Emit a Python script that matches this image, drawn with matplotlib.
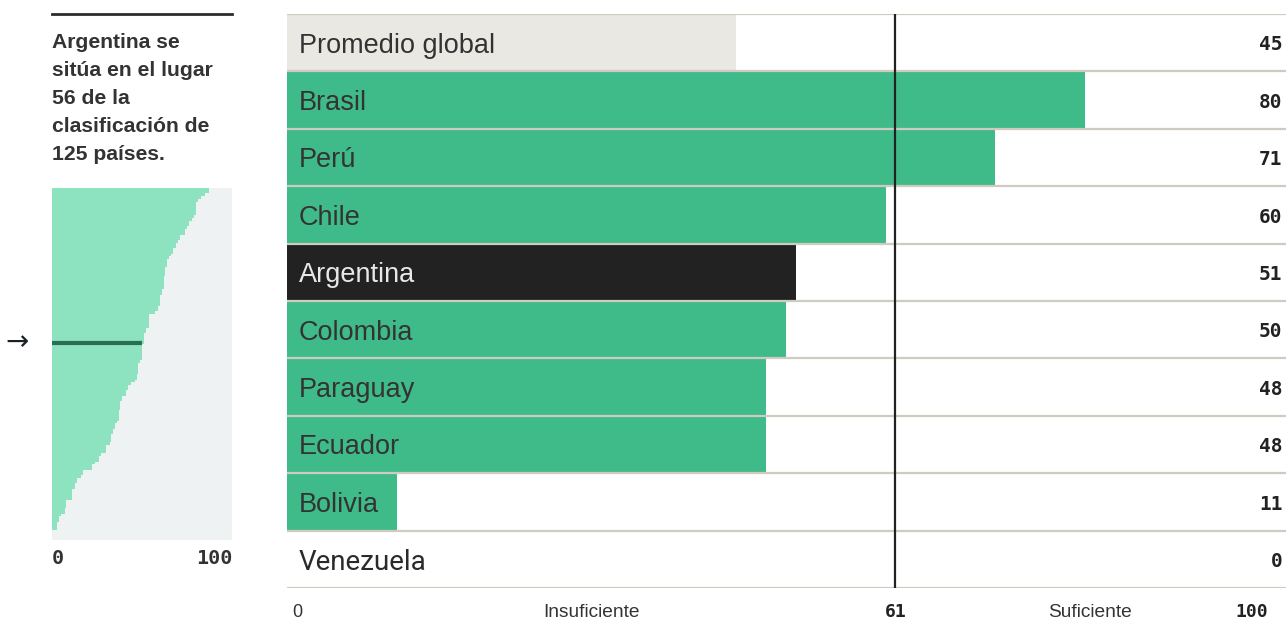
import numpy as np
import matplotlib
matplotlib.use("Agg")
import matplotlib.pyplot as plt

# main chart: Latin America vs global average
countries = ["Promedio global", "Brasil", "Perú", "Chile", "Argentina",
             "Colombia", "Paraguay", "Ecuador", "Bolivia", "Venezuela"]
scores = [45, 80, 71, 60, 51, 50, 48, 48, 11, 0]
THRESHOLD = 61

# mini chart: the 125 countries in ranking order
ranking_scores = (
    [87, 87, 85, 83, 81, 80, 80, 80, 80, 80, 79, 78, 76, 76, 75, 74, 74,
     71, 71, 70, 69, 69, 67, 67, 66, 65, 64, 64, 64, 63, 63, 63,
     62, 62, 62, 62, 62, 61, 61, 60, 60, 60, 60, 59, 59, 57, 54, 54,
     54, 54, 54, 52, 52, 51, 51, 51, 51, 50, 50, 50, 50, 50, 50, 49,
     48, 48, 48, 48, 47, 47, 46, 44, 42, 42, 41, 41, 39, 39, 38, 38, 38,
     37, 37, 37, 37, 36, 35, 35, 34, 34, 33, 33, 33, 32, 30, 30, 30,
     27, 26, 26, 24, 22, 22, 17, 17, 16, 14, 14, 13, 13, 11, 11, 11, 11,
     8, 8, 8, 7, 7, 5, 4, 4, 3, 3, 3]
)
ARG_RANK = 56
ARG_SCORE = 51
N_COUNTRIES = 125

GREEN = "#3ebb89"
LIGHT_GREEN = "#8de2c0"
GREY_BAR = "#e9e8e3"
DARK = "#222222"
SEP = "#cfcbc0"
TEXT = "#333333"

W, H = 1286, 620
fig = plt.figure(figsize=(W / 100, H / 100), dpi=100)


def px_axes(x0, y0, x1, y1):
    """Axes from pixel box (top-left origin)."""
    return fig.add_axes([x0 / W, 1 - y1 / H, (x1 - x0) / W, (y1 - y0) / H])


# ---------------------------------------------------------------------------
# Main bar chart
# ---------------------------------------------------------------------------
ax = px_axes(287, 14, 1286, 588)
xmax = 100 * (1286 - 287) / 997.5
ax.set_xlim(0, xmax)
ax.set_ylim(len(countries), 0)
ax.axis("off")

for i, (name, val) in enumerate(zip(countries, scores)):
    if name == "Promedio global":
        col, tcol = GREY_BAR, TEXT
    elif name == "Argentina":
        col, tcol = DARK, "#e8e8e8"
    else:
        col, tcol = GREEN, TEXT
    ax.barh(i + 0.5, val, height=0.97, left=0, color=col, zorder=1)
    if name == "Venezuela":
        ax.text(1.2, i + 0.55, name, ha="left", va="center", fontsize=20,
                family="Roboto", weight="normal", color="#2a2a2a", zorder=3)
    else:
        ax.text(1.2, i + 0.55, name, ha="left", va="center", fontsize=19.5,
                family="Liberation Sans", color=tcol, zorder=3)
    ax.text(99.8, i + 0.54, f"{val}", ha="right", va="center", fontsize=14,
            family="DejaVu Sans Mono", weight="bold", color=DARK, zorder=3)

for k in range(len(countries) + 1):
    ax.axhline(k, color=SEP, lw=1.6, zorder=2)
ax.axvline(THRESHOLD, color=DARK, lw=1.6, zorder=4)

# bottom scale labels
ax.text(0.5, 10.43, "0", ha="left", va="center", fontsize=13,
        family="Liberation Sans", color=TEXT)
ax.text(30.5, 10.43, "Insuficiente", ha="center", va="center", fontsize=13.8,
        family="Liberation Sans", color=TEXT)
ax.text(THRESHOLD, 10.41, f"{THRESHOLD}", ha="center", va="center",
        fontsize=13, family="DejaVu Sans Mono", weight="bold", color=DARK)
ax.text(80.5, 10.43, "Suficiente", ha="center", va="center", fontsize=13.8,
        family="Liberation Sans", color=TEXT)
ax.text(98.3, 10.41, "100", ha="right", va="center", fontsize=13,
        family="DejaVu Sans Mono", weight="bold", color=DARK)

# ---------------------------------------------------------------------------
# Left panel: caption + ranking mini chart
# ---------------------------------------------------------------------------
fig.add_artist(plt.Line2D([52 / W, 232 / W], [1 - 14 / H, 1 - 14 / H],
                          color="#2b2b2b", lw=2))
caption = ["Argentina se", "sitúa en el lugar", "56 de la",
           "clasificación de", "125 países."]
for j, line in enumerate(caption):
    fig.text(52 / W, 1 - (42 + 28 * j) / H, line, ha="left", va="center",
             fontsize=15.2, weight="bold", family="Liberation Sans",
             color=TEXT)

mini = px_axes(52, 188, 232, 540)
mini.set_facecolor("#eef2f3")
mini.set_xlim(0, 100)
mini.set_ylim(N_COUNTRIES + 10 / 2.736, 0)
mini.barh(np.arange(N_COUNTRIES) + 0.5, ranking_scores, height=1.0,
          left=0, color=LIGHT_GREEN, linewidth=0)
mini.hlines(ARG_RANK + 0.5, 0, ARG_SCORE - 1, color="#2a6e55", lw=3)
for s in mini.spines.values():
    s.set_visible(False)
mini.set_xticks([])
mini.set_yticks([])

fig.text(5 / W, 1 - 342 / H, "→", ha="left", va="center", fontsize=20,
         family="DejaVu Sans", color="#1a2226")
fig.text(52 / W, 1 - 558 / H, "0", ha="left", va="center", fontsize=14.5,
         family="DejaVu Sans Mono", weight="bold", color=TEXT)
fig.text(232 / W, 1 - 558 / H, "100", ha="right", va="center", fontsize=14.5,
         family="DejaVu Sans Mono", weight="bold", color=TEXT)

fig.savefig("out.png", dpi=100)
